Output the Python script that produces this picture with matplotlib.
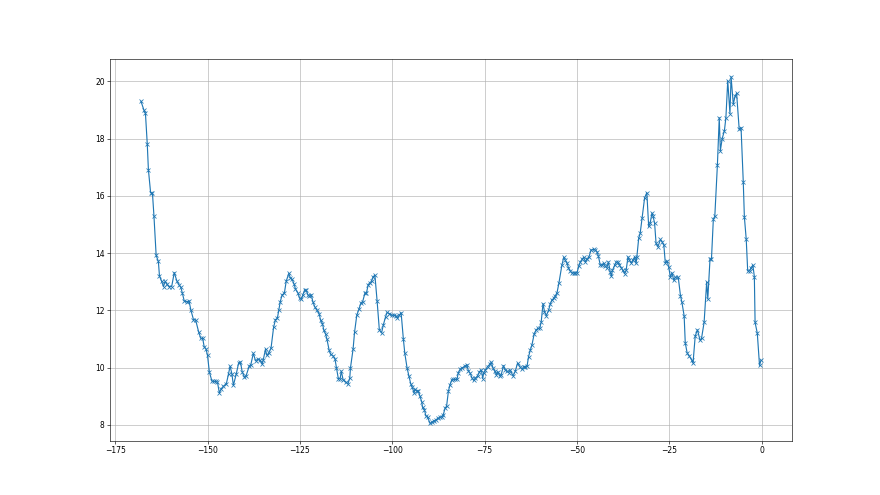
import matplotlib
matplotlib.use("Agg")
import matplotlib.pyplot as plt

# values (x = offset, y = value)
x_vals = [
    -168.0, -167.2, -166.8, -166.3, -166.0, -165.4, -164.9, -164.5, -163.9, -163.3,
    -163.0, -162.4, -161.9, -161.5, -161.0, -160.3, -159.7, -159.0, -158.3, -157.7,
    -157.2, -156.8, -156.3, -155.6, -155.0, -154.5, -153.8, -153.2, -152.4, -151.8,
    -151.3, -150.9, -150.4, -150.0, -149.5, -148.8, -148.2, -147.6, -147.3, -146.8,
    -146.3, -145.7, -144.9, -144.3, -143.9, -143.4, -143.0, -142.2, -141.6, -141.1,
    -140.6, -140.0, -139.6, -138.7, -138.3, -137.6, -137.0, -136.4, -135.8, -135.2,
    -134.9, -134.3, -134.0, -133.4, -132.8, -132.1, -131.6, -131.1, -130.7, -130.3,
    -129.8, -129.2, -128.7, -128.0, -127.6, -127.1, -126.6, -126.2, -125.5, -125.1,
    -124.6, -124.2, -123.7, -123.3, -122.8, -122.4, -121.9, -121.5, -121.0, -120.4,
    -119.8, -119.4, -118.9, -118.5, -118.0, -117.7, -117.1, -116.7, -116.0, -115.5,
    -115.1, -114.6, -114.1, -113.8, -113.3, -112.6, -112.0, -111.5, -111.3, -110.6,
    -110.2, -109.6, -109.0, -108.5, -108.0, -107.4, -107.0, -106.5, -106.1, -105.6,
    -105.2, -104.7, -104.1, -103.5, -102.9, -102.4, -101.8, -101.4, -100.8, -100.2,
    -99.5, -99.0, -98.6, -98.1, -97.6, -97.0, -96.6, -96.0, -95.5, -95.0,
    -94.6, -94.1, -93.9, -93.4, -93.0, -92.5, -92.0, -91.8, -91.3, -90.9,
    -90.4, -89.8, -89.3, -88.8, -88.2, -87.7, -87.2, -86.6, -86.2, -85.7,
    -85.3, -84.8, -84.4, -83.9, -83.5, -83.0, -82.5, -82.1, -81.6, -81.0,
    -80.3, -79.8, -79.4, -78.9, -78.4, -78.0, -77.5, -76.9, -76.4, -75.9,
    -75.5, -75.3, -74.8, -74.2, -73.6, -73.2, -72.7, -72.3, -71.8, -71.4,
    -70.9, -70.5, -69.9, -69.4, -68.9, -68.5, -68.1, -67.3, -66.7, -66.1,
    -65.5, -64.9, -64.4, -64.0, -63.5, -63.1, -62.6, -62.2, -61.6, -61.1,
    -60.6, -60.1, -59.7, -59.2, -58.8, -58.3, -57.7, -57.2, -56.8, -56.3,
    -55.9, -55.4, -54.9, -54.1, -53.6, -53.2, -52.7, -52.3, -51.8, -51.4,
    -50.9, -50.5, -50.0, -49.5, -49.1, -48.6, -48.2, -47.7, -47.3, -46.8,
    -46.2, -45.5, -45.1, -44.6, -44.2, -43.7, -43.3, -42.8, -42.4, -41.9,
    -41.5, -41.0, -40.7, -40.4, -39.8, -39.4, -38.9, -38.5, -38.0, -37.6,
    -37.1, -36.7, -36.2, -35.8, -35.3, -34.9, -34.4, -34.0, -33.8, -33.3,
    -32.9, -32.4, -31.7, -31.1, -30.6, -30.2, -29.7, -29.4, -29.0, -28.6,
    -28.1, -27.4, -27.0, -26.5, -26.1, -25.6, -25.2, -24.7, -24.3, -23.8,
    -23.4, -22.6, -22.0, -21.6, -21.0, -20.7, -20.2, -19.6, -19.0, -18.6,
    -18.0, -17.4, -16.7, -16.3, -15.6, -14.9, -14.6, -14.0, -13.6, -13.1,
    -12.7, -12.0, -11.5, -11.2, -10.7, -10.1, -9.7, -9.2, -8.6, -8.3,
    -7.7, -7.2, -6.8, -6.1, -5.6, -5.0, -4.7, -4.2, -3.8, -3.3,
    -2.9, -2.4, -2.0, -1.8, -1.2, -0.6, -0.2,
]

y_vals = [
    19.30, 18.99, 18.89, 17.80, 16.92, 16.11, 16.09, 15.31, 13.92, 13.71,
    13.20, 13.01, 12.83, 13.01, 12.91, 12.83, 12.83, 13.32, 13.03, 12.89,
    12.80, 12.60, 12.33, 12.30, 12.33, 12.01, 11.68, 11.66, 11.25, 11.02,
    11.02, 10.73, 10.65, 10.43, 9.85, 9.53, 9.52, 9.52, 9.49, 9.12,
    9.26, 9.35, 9.44, 9.79, 10.05, 9.79, 9.38, 9.79, 10.15, 10.20,
    9.85, 9.67, 9.70, 10.06, 10.09, 10.50, 10.24, 10.30, 10.26, 10.12,
    10.28, 10.65, 10.44, 10.51, 10.69, 11.42, 11.68, 11.72, 12.01, 12.31,
    12.54, 12.60, 13.02, 13.29, 13.14, 13.08, 12.93, 12.75, 12.60, 12.43,
    12.39, 12.54, 12.72, 12.70, 12.54, 12.49, 12.54, 12.31, 12.13, 12.01,
    11.89, 11.66, 11.54, 11.30, 11.16, 11.01, 10.62, 10.47, 10.41, 10.30,
    10.00, 9.62, 9.62, 9.88, 9.58, 9.50, 9.43, 9.64, 10.00, 10.65,
    11.24, 11.83, 12.05, 12.25, 12.31, 12.60, 12.60, 12.90, 12.96, 13.02,
    13.17, 13.23, 12.33, 11.33, 11.21, 11.50, 11.78, 11.93, 11.89, 11.83,
    11.83, 11.81, 11.75, 11.83, 11.92, 11.01, 10.50, 10.00, 9.71, 9.44,
    9.32, 9.12, 9.24, 9.18, 9.20, 9.00, 8.80, 8.61, 8.53, 8.32,
    8.26, 8.06, 8.09, 8.14, 8.17, 8.23, 8.26, 8.29, 8.35, 8.59,
    8.65, 9.18, 9.39, 9.57, 9.59, 9.59, 9.59, 9.83, 9.95, 10.00,
    10.06, 10.10, 9.89, 9.80, 9.64, 9.56, 9.64, 9.71, 9.86, 9.92,
    9.62, 9.80, 9.92, 10.04, 10.12, 10.19, 9.98, 9.88, 9.76, 9.86,
    9.71, 9.76, 10.07, 9.92, 9.88, 9.83, 9.92, 9.71, 9.88, 10.15,
    10.04, 9.95, 10.04, 10.04, 10.07, 10.39, 10.63, 10.79, 11.17, 11.31,
    11.37, 11.38, 11.58, 12.24, 11.96, 11.82, 12.00, 12.24, 12.36, 12.42,
    12.50, 12.62, 12.95, 13.57, 13.85, 13.76, 13.64, 13.49, 13.37, 13.31,
    13.31, 13.31, 13.31, 13.55, 13.69, 13.79, 13.85, 13.69, 13.81, 13.85,
    14.11, 14.13, 14.11, 14.05, 13.89, 13.58, 13.58, 13.64, 13.54, 13.49,
    13.69, 13.34, 13.19, 13.40, 13.58, 13.69, 13.69, 13.58, 13.49, 13.40,
    13.28, 13.40, 13.87, 13.75, 13.66, 13.75, 13.87, 13.64, 13.87, 14.52,
    14.69, 15.22, 15.93, 16.11, 14.93, 15.05, 15.40, 15.28, 15.05, 14.34,
    14.22, 14.48, 14.40, 14.28, 13.66, 13.73, 13.52, 13.16, 13.31, 13.05,
    13.16, 13.16, 12.52, 12.28, 11.81, 10.87, 10.52, 10.40, 10.28, 10.16,
    11.11, 11.32, 10.96, 11.02, 11.58, 12.99, 12.40, 13.79, 13.81, 15.18,
    15.29, 17.08, 18.73, 17.58, 18.00, 18.28, 18.73, 20.02, 18.87, 20.16,
    19.20, 19.49, 19.58, 18.32, 18.38, 16.49, 15.26, 14.49, 13.38, 13.38,
    13.49, 13.58, 13.18, 11.58, 11.20, 10.08, 10.26,
]

fig, ax = plt.subplots(figsize=(16, 9), dpi=55)
ax.plot(x_vals, y_vals, marker='x')
ax.grid(True)

plt.savefig("out.png", dpi=55)
